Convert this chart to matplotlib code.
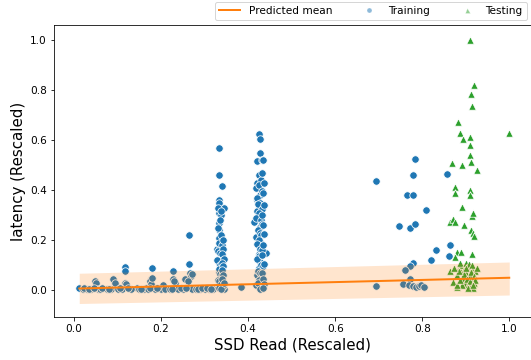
import matplotlib
matplotlib.use("Agg")
import matplotlib.pyplot as plt
from matplotlib.lines import Line2D

# ---------------- data ----------------
train_x = [
    # low region
    0.012, 0.048, 0.09, 0.117, 0.117, 0.118, 0.12, 0.179, 0.176, 0.175, 0.178,
    0.228, 0.228, 0.232, 0.255, 0.265, 0.265, 0.267, 0.268, 0.262, 0.205,
    0.144, 0.166, 0.383, 0.12, 0.18, 0.23, 0.27, 0.095, 0.05,
    # bottom row
    0.02, 0.03, 0.04, 0.055, 0.06, 0.075, 0.085, 0.1, 0.11, 0.13, 0.15, 0.16,
    0.17, 0.185, 0.2, 0.21, 0.22, 0.24, 0.25, 0.27, 0.28, 0.29, 0.3, 0.31, 0.32,
    0.024, 0.035, 0.046, 0.065, 0.08, 0.105, 0.125, 0.155, 0.175, 0.19, 0.225,
    0.245, 0.258, 0.285, 0.295, 0.305, 0.315, 0.34, 0.345,
    # column ~0.33
    0.334, 0.334, 0.339, 0.334, 0.334, 0.345, 0.332, 0.332, 0.334, 0.332, 0.328,
    0.336, 0.34, 0.334, 0.332, 0.336, 0.334, 0.33, 0.338, 0.335, 0.33, 0.337,
    0.333, 0.339, 0.331, 0.336, 0.34, 0.329, 0.335, 0.338, 0.332, 0.336, 0.341,
    0.33, 0.334, 0.338, 0.342, 0.333, 0.337, 0.343, 0.341, 0.344, 0.34, 0.342,
    0.339, 0.343, 0.341, 0.344, 0.338, 0.342,
    # column ~0.425
    0.426, 0.428, 0.427, 0.421, 0.432, 0.425, 0.421, 0.424, 0.418, 0.428,
    0.421, 0.425, 0.421, 0.428, 0.414, 0.428, 0.418, 0.428, 0.43, 0.425, 0.441,
    0.428, 0.425, 0.421, 0.418, 0.43, 0.424, 0.432, 0.42, 0.427, 0.423, 0.431,
    0.426, 0.419, 0.429, 0.433, 0.422, 0.427, 0.43, 0.424, 0.421, 0.428, 0.432,
    0.425, 0.42, 0.429, 0.434, 0.423, 0.427, 0.43, 0.426, 0.422, 0.431, 0.428,
    0.435, 0.433, 0.436, 0.434, 0.437, 0.433, 0.435, 0.436, 0.434, 0.432,
    0.436, 0.433, 0.435, 0.437, 0.434,
    # right cluster
    0.694, 0.783, 0.78, 0.766, 0.78, 0.808, 0.746, 0.771, 0.784, 0.857, 0.832,
    0.864, 0.82, 0.861, 0.778, 0.772, 0.761, 0.771, 0.693, 0.757, 0.769, 0.78,
    0.79, 0.8, 0.795, 0.785, 0.792, 0.798, 0.803,
]
train_y = [
    0.007, 0.037, 0.043, 0.093, 0.078, 0.03, 0.02, 0.087, 0.045, 0.035, 0.025,
    0.077, 0.043, 0.03, 0.043, 0.222, 0.104, 0.07, 0.055, 0.035, 0.02,
    0.007, 0.007, 0.011, 0.025, 0.05, 0.035, 0.065, 0.03, 0.03,
    0.005, 0.004, 0.006, 0.005, 0.004, 0.006, 0.005, 0.004, 0.006, 0.005, 0.004,
    0.006, 0.005, 0.004, 0.006, 0.005, 0.004, 0.006, 0.005, 0.004, 0.006, 0.005,
    0.004, 0.006, 0.005,
    0.008, 0.006, 0.007, 0.008, 0.006, 0.007, 0.008, 0.006, 0.007, 0.008, 0.006,
    0.007, 0.008, 0.006, 0.007, 0.008, 0.006, 0.007, 0.006,
    0.567, 0.46, 0.416, 0.36, 0.347, 0.327, 0.309, 0.267, 0.24, 0.207, 0.163,
    0.175, 0.14, 0.107, 0.073, 0.047, 0.02, 0.33, 0.3, 0.28, 0.25, 0.22, 0.19,
    0.18, 0.155, 0.15, 0.13, 0.12, 0.1, 0.09, 0.085, 0.065, 0.06, 0.04, 0.035,
    0.025, 0.015, 0.01, 0.005, 0.165, 0.145, 0.125, 0.11, 0.095, 0.08, 0.06,
    0.045, 0.03, 0.315, 0.2,
    0.624, 0.603, 0.547, 0.516, 0.52, 0.46, 0.427, 0.407, 0.407, 0.38, 0.36,
    0.336, 0.316, 0.3, 0.272, 0.253, 0.213, 0.193, 0.173, 0.144, 0.149, 0.113,
    0.087, 0.06, 0.02, 0.44, 0.42, 0.395, 0.37, 0.35, 0.345, 0.325, 0.31, 0.29,
    0.28, 0.265, 0.24, 0.23, 0.22, 0.2, 0.185, 0.165, 0.16, 0.135, 0.125, 0.1,
    0.095, 0.075, 0.07, 0.05, 0.04, 0.03, 0.01, 0.005,
    0.52, 0.47, 0.43, 0.39, 0.34, 0.3, 0.26, 0.225, 0.18, 0.14, 0.105, 0.07,
    0.045, 0.025, 0.008,
    0.435, 0.523, 0.46, 0.381, 0.381, 0.319, 0.256, 0.249, 0.265, 0.464, 0.159,
    0.179, 0.12, 0.136, 0.11, 0.097, 0.081, 0.044, 0.017, 0.025, 0.02, 0.018,
    0.018, 0.015, 0.02, 0.012, 0.016, 0.02, 0.014,
]
test_x = [
    0.91, 0.918, 0.912, 0.914, 0.882, 1.0, 0.887, 0.893, 0.91, 0.909, 0.909,
    0.912, 0.868, 0.891, 0.927, 0.876, 0.876, 0.909, 0.909, 0.891, 0.914, 0.916,
    0.864, 0.87, 0.876, 0.895, 0.912, 0.916, 0.92, 0.881, 0.889, 0.876, 0.914,
    0.864, 0.881, 0.87, 0.881, 0.885, 0.89, 0.895, 0.9, 0.905, 0.91, 0.915,
    0.92, 0.893, 0.898, 0.905, 0.912, 0.918, 0.922, 0.886, 0.9, 0.908, 0.915,
    0.892, 0.897, 0.903, 0.91, 0.916, 0.885, 0.872, 0.9, 0.912, 0.919, 0.906,
    0.879, 0.925, 0.921, 0.917, 0.888,
]
test_y = [
    1.0, 0.82, 0.784, 0.736, 0.673, 0.627, 0.63, 0.603, 0.611, 0.58, 0.54,
    0.513, 0.507, 0.5, 0.48, 0.411, 0.387, 0.4, 0.38, 0.331, 0.296, 0.307,
    0.273, 0.283, 0.273, 0.26, 0.24, 0.227, 0.216, 0.153, 0.153, 0.133, 0.144,
    0.077, 0.06, 0.033, 0.013, 0.09, 0.1, 0.08, 0.07, 0.095, 0.06, 0.085,
    0.05, 0.045, 0.03, 0.02, 0.015, 0.03, 0.075, 0.11, 0.11, 0.105, 0.1,
    0.02, 0.065, 0.045, 0.035, 0.01, 0.075, 0.09, 0.088, 0.072, 0.055, 0.008,
    0.02, 0.09, 0.04, 0.02, 0.04,
]
pred_x = [0.012, 1.0]
pred_mean = [0.006, 0.049]
pred_lower = [-0.054, -0.02]
pred_upper = [0.067, 0.112]

x_ticks = [0.0, 0.2, 0.4, 0.6, 0.8, 1.0]
y_ticks = [0.0, 0.2, 0.4, 0.6, 0.8, 1.0]

# ---------------- figure ----------------
W, H = 531, 360
fig = plt.figure(figsize=(W / 72, H / 72), dpi=72)
ax = fig.add_axes([54 / W, 43 / H, 477 / W, 292 / H])

ax.scatter(train_x, train_y, s=55, c='#1f77b4', edgecolors='white',
           linewidths=0.75, zorder=2)
ax.scatter(test_x, test_y, s=55, marker='^', c='#2ca02c', edgecolors='white',
           linewidths=0.75, zorder=2)
ax.fill_between(pred_x, pred_lower, pred_upper, color='#ff7f0e', alpha=0.2,
                lw=0, zorder=3)
ax.plot(pred_x, pred_mean, color='#ff7f0e', lw=2, zorder=4)

ax.set_xlim(-0.046, 1.05)
ax.set_ylim(-0.108, 1.06)
ax.set_xticks(x_ticks)
ax.set_yticks(y_ticks)
ax.tick_params(labelsize=10.5)
ax.set_xlabel('SSD Read (Rescaled)', fontsize=15)
ax.set_ylabel('latency (Rescaled)', fontsize=15)

handles = [
    Line2D([], [], color='#ff7f0e', lw=2),
    Line2D([], [], marker='o', ls='', color='#1f77b4', alpha=0.5,
           markersize=5, markeredgecolor='white', markeredgewidth=0.5),
    Line2D([], [], marker='^', ls='', color='#2ca02c', alpha=0.5,
           markersize=5, markeredgecolor='white', markeredgewidth=0.5),
]
fig.legend(handles, ['Predicted mean', 'Training', 'Testing'], ncol=3,
           loc='lower right', bbox_to_anchor=(527 / W, 340 / H),
           borderaxespad=0, fontsize=10.5, columnspacing=2.5, frameon=True)

fig.savefig('out.png', dpi=72)
